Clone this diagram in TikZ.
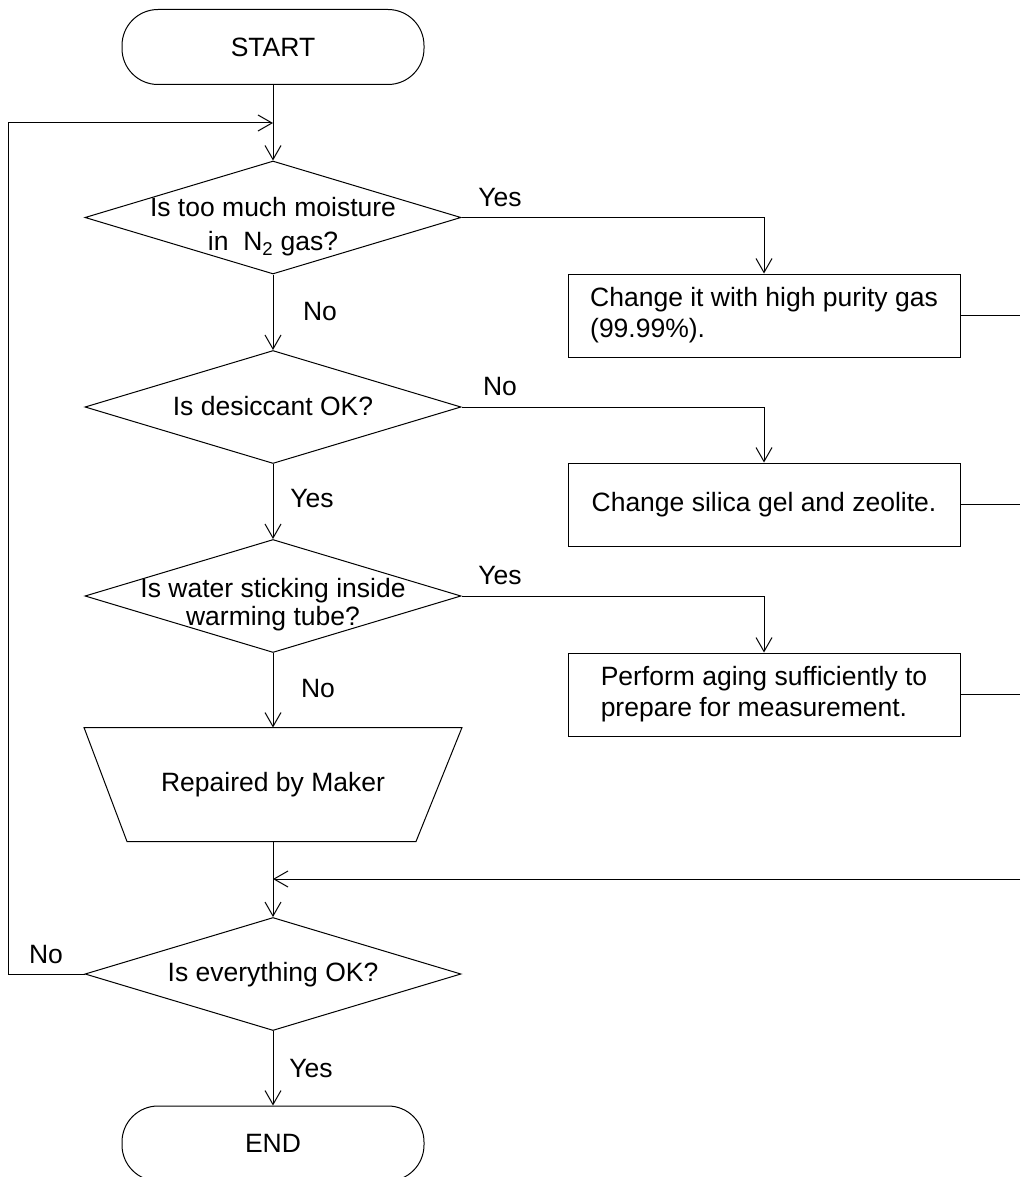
\documentclass[tikz,border=0pt]{standalone}
\usepackage{fontspec}
\setmainfont{Liberation Sans}
\usetikzlibrary{shapes.geometric,arrows.meta}
\begin{document}
\begin{tikzpicture}[x=1pt,y=-1pt,line width=1pt,
    every node/.style={font=\fontsize{26.5}{31}\selectfont},
    >={Straight Barb[length=14pt,width=16pt]},
    term/.style={draw,rounded corners=36pt,minimum width=302pt,minimum height=75pt},
    decision/.style={draw,diamond,inner sep=0pt,minimum width=376pt,minimum height=113pt},
    action/.style={draw,inner sep=0pt,minimum width=392pt,minimum height=83pt,align=left}]
    \useasboundingbox (0,0) rectangle (1020,1177);
    \clip (0,0) rectangle (1020,1177);
    % main column
    \node (start) at (273,47) [term] {START};
    \node (q1) at (273,217.5) [decision] {};
    \node (q1txt) at (273,227) [align=center] {Is too much moisture\\[3pt]in\ \ N\textsubscript{2} gas?};
    \node (q2) at (273,407) [decision] {};
    \node (q2txt) at (273,406) {Is desiccant OK?};
    \node (q3) at (273,596) [decision] {};
    \node (q3txt) at (273,605) [align=center] {Is water sticking inside\\[-3pt]warming tube?};
    \node (fix) at (273,784.5) [minimum width=377pt,minimum height=113pt] {Repaired by Maker};
    \draw (fix.north west) -- (fix.north east) -- ([xshift=-46pt]fix.south east)
          -- ([xshift=43pt]fix.south west) -- cycle;
    \node (q4) at (273,974) [decision] {};
    \node (q4txt) at (273,975) {Is everything OK?};
    \node (end) at (273,1143.5) [term] {END};
    % right column
    \node (box1) at (764,315.5) [action] {Change it with high purity gas\\(99.99\%).};
    \node (box2) at (764,504.5) [action] {Change silica gel and zeolite.};
    \node (box3) at (764,694.5) [action] {Perform aging sufficiently to\\prepare for measurement.};
    % free ends
    \coordinate (loopin) at (273,123);
    \coordinate (lft) at (8,974);
    \coordinate (mrg) at (273,879);
    \coordinate (rin) at (1020,879);
    % connectors
    \draw[->] (start) -- (q1);
    \draw[->] (q1) -- (q2);
    \draw[->] (q2) -- (q3);
    \draw[->] (q3) -- (fix);
    \draw[->] (fix.south) -- (q4.north);
    \draw[->] (q4) -- (end);
    \draw[->] (q1.east) -| (box1.north);
    \draw[->] (q2.east) -| (box2.north);
    \draw[->] (q3.east) -| (box3.north);
    \draw (box1.east) -- (box1.east -| rin);
    \draw (box2.east) -- (box2.east -| rin);
    \draw (box3.east) -- (box3.east -| rin);
    \draw[->] (rin) -- (mrg);
    \draw[->] (q4.west) -- (lft) |- (loopin);
    % labels
    \node (l1) at (500,198) {Yes};
    \node (l2) at (320,312) {No};
    \node (l3) at (500,387) {No};
    \node (l4) at (312,499) {Yes};
    \node (l5) at (500,576) {Yes};
    \node (l6) at (318,689) {No};
    \node (l7) at (46,955) {No};
    \node (l8) at (311,1069) {Yes};
\end{tikzpicture}
\end{document}
